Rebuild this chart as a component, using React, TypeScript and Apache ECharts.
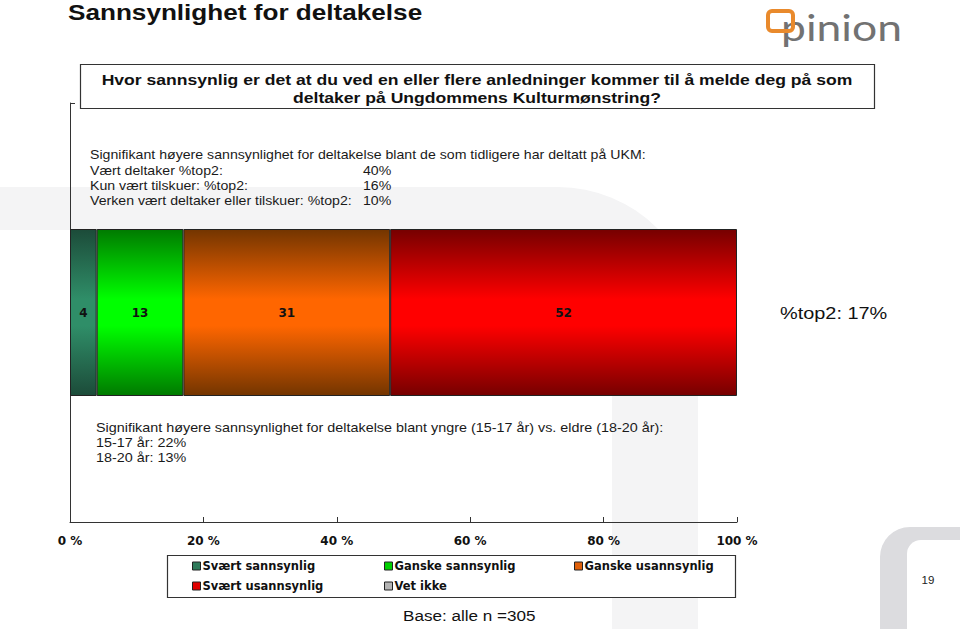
import React, { useEffect, useRef } from "react";
import * as echarts from "echarts";

const categories = ["Total"];
const seriesNames = [
  "Svært sannsynlig",
  "Ganske sannsynlig",
  "Ganske usannsynlig",
  "Svært usannsynlig",
  "Vet ikke",
];
const values = [4, 13, 31, 52, 0];
const edgeColors = ["#1c4b39", "#007a00", "#733500", "#760000", "#707070"];
const midColors = ["#2f8e68", "#00ff00", "#ff6600", "#ff0000", "#c0c0c0"];
const legendColors = ["#2e7a5a", "#00d000", "#e0600a", "#e00000", "#b4b4b4"];
const legendColumns = [
  ["Svært sannsynlig", "Svært usannsynlig"],
  ["Ganske sannsynlig", "Vet ikke"],
  ["Ganske usannsynlig"],
];
const legendColumnX = [192, 384, 574];

const titleText = "Sannsynlighet for deltakelse";
const questionLines = [
  "Hvor sannsynlig er det at du ved en eller flere anledninger kommer til å melde deg på som",
  "deltaker på Ungdommens Kulturmønstring?",
];
const topNoteLabels = [
  "Signifikant høyere sannsynlighet for deltakelse blant de som tidligere har deltatt på UKM:",
  "Vært deltaker %top2:",
  "Kun vært tilskuer: %top2:",
  "Verken vært deltaker eller tilskuer: %top2:",
];
const topNoteValues = ["", "40%", "16%", "10%"];
const bottomNoteLines = [
  "Signifikant høyere sannsynlighet for deltakelse blant yngre (15-17 år) vs. eldre (18-20 år):",
  "15-17 år: 22%",
  "18-20 år: 13%",
];
const top2Text = "%top2: 17%";
const baseText = "Base: alle n =305";
const pageNumber = "19";
const logoText = "pinion";

const FONT = '"Liberation Sans", Arial, sans-serif';
const WIDE = '"DejaVu Sans", Verdana, sans-serif';

export default function App() {
  const ref = useRef<HTMLDivElement>(null);

  useEffect(() => {
    if (!ref.current) return;
    const chart = echarts.init(ref.current, undefined, { renderer: "svg" });

    const series = seriesNames.map((name, i) => ({
      name,
      type: "bar",
      stack: "total",
      barWidth: 167,
      data: [values[i]],
      itemStyle: {
        color: new echarts.graphic.LinearGradient(0, 0, 0, 1, [
          { offset: 0, color: edgeColors[i] },
          { offset: 0.42, color: midColors[i] },
          { offset: 0.58, color: midColors[i] },
          { offset: 1, color: edgeColors[i] },
        ]),
        borderColor: "#222",
        borderWidth: values[i] > 0 ? 1 : 0,
      },
      label: {
        show: values[i] > 0,
        position: "inside",
        color: "#111",
        fontFamily: WIDE,
        fontWeight: "bold",
        fontSize: 12,
        formatter: "{c}",
      },
      emphasis: { disabled: true },
    }));

    const legends = legendColumns.map((col, ci) => ({
      z: 20,
      orient: "vertical",
      left: legendColumnX[ci],
      top: 559,
      padding: 0,
      itemWidth: 8,
      itemHeight: 8,
      itemGap: 6,
      icon: "rect",
      selectedMode: false,
      textStyle: {
        fontFamily: WIDE,
        fontWeight: "bold",
        fontSize: 11.5,
        lineHeight: 14,
        color: "#111",
        padding: [0, 0, 0, -3],
      },
      data: col.map((n) => ({
        name: n,
        itemStyle: {
          color: legendColors[seriesNames.indexOf(n)],
          borderColor: "#222",
          borderWidth: 1,
        },
      })),
    }));

    const textEl = (
      text: string,
      x: number,
      y: number,
      font: string,
      sx = 1,
      align = "left",
      fill = "#1a1a1a"
    ) => ({
      type: "text",
      z: 10,
      x,
      y,
      scaleX: sx,
      style: {
        text,
        x: 0,
        y: 0,
        font,
        fill,
        textAlign: align,
        textVerticalAlign: "middle",
      },
    });

    const graphics: any[] = [
      // watermark
      {
        type: "rect",
        z: -10,
        shape: { x: -20, y: 187, width: 718, height: 470, r: [0, 140, 0, 0] },
        style: { fill: "#f4f4f5" },
      },
      {
        type: "rect",
        z: -9,
        shape: { x: -20, y: 230, width: 632, height: 420 },
        style: { fill: "#ffffff" },
      },
      {
        type: "rect",
        z: -10,
        shape: { x: 880, y: 527, width: 100, height: 120, r: [30, 0, 0, 0] },
        style: { fill: "#dcdcdf" },
      },
      {
        type: "rect",
        z: -9,
        shape: { x: 907, y: 540, width: 80, height: 100, r: [14, 0, 0, 0] },
        style: { fill: "#ffffff" },
      },
      // logo
      textEl(logoText, 781, 27, `37px Lato, ${FONT}`, 1.2, "left", "#727272"),
      {
        type: "rect",
        z: 11,
        shape: { x: 768, y: 11, width: 25, height: 20, r: 4 },
        style: { fill: "none", stroke: "#e98a2c", lineWidth: 4 },
      },
      // title
      textEl(titleText, 68, 12, `bold 22px ${FONT}`, 1.188, "left", "#111"),
      // question box
      {
        type: "rect",
        z: 1,
        shape: { x: 80.5, y: 64.5, width: 794, height: 44 },
        style: { fill: "#ffffff", stroke: "#333", lineWidth: 1.2 },
      },
      textEl(questionLines[0], 477, 79, `bold 15px ${FONT}`, 1.172, "center", "#111"),
      textEl(questionLines[1], 477, 97, `bold 15px ${FONT}`, 1.172, "center", "#111"),
      // legend box
      {
        type: "rect",
        z: 1,
        shape: { x: 167.5, y: 555.5, width: 568, height: 42 },
        style: { fill: "#ffffff", stroke: "#333", lineWidth: 1.2 },
      },
      textEl(top2Text, 780, 313, `17px ${FONT}`, 1.17, "left", "#111"),
      textEl(baseText, 403, 615, `15px ${FONT}`, 1.14, "left", "#111"),
      textEl(pageNumber, 928, 580, `11px ${FONT}`, 1.05, "center", "#222"),
    ];
    topNoteLabels.forEach((t, i) => {
      graphics.push(textEl(t, 90, 155 + i * 15.3, `13px ${FONT}`, 1.088));
      if (topNoteValues[i])
        graphics.push(textEl(topNoteValues[i], 363, 155 + i * 15.3, `13px ${FONT}`, 1.088));
    });
    bottomNoteLines.forEach((t, i) => {
      graphics.push(textEl(t, 96, 428 + i * 14.7, `13px ${FONT}`, 1.105));
    });

    chart.setOption({
      animation: false,
      backgroundColor: "#ffffff",
      grid: { left: 70, right: 223, top: 103, bottom: 107, containLabel: false },
      xAxis: {
        type: "value",
        min: 0,
        max: 100,
        interval: 20,
        axisLine: { show: true, lineStyle: { color: "#333", width: 1 } },
        axisTick: { show: true, inside: true, length: 5, lineStyle: { color: "#333" } },
        splitLine: { show: false },
        axisLabel: {
          formatter: (v: number) => `${v} %`,
          fontFamily: WIDE,
          fontWeight: "bold",
          fontSize: 12,
          color: "#111",
          margin: 13,
        },
      },
      yAxis: {
        type: "category",
        data: categories,
        axisLine: { show: true, lineStyle: { color: "#333", width: 1 } },
        axisTick: { show: true, inside: true, length: 5, lineStyle: { color: "#333" } },
        axisLabel: { show: false },
      },
      legend: legends,
      series,
      graphic: { elements: graphics },
    });

    return () => chart.dispose();
  }, []);

  return (
    <div
      ref={ref}
      style={{ position: "fixed", left: 0, top: 0, width: 960, height: 629 }}
    />
  );
}
